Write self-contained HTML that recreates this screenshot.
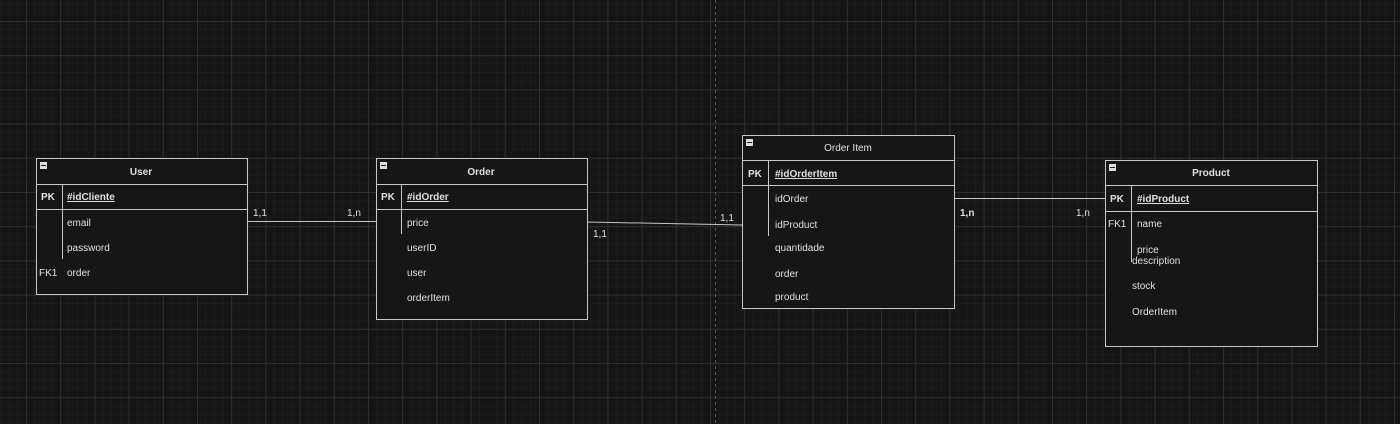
<!DOCTYPE html>
<html><head><meta charset="utf-8"><style>
html,body{margin:0;padding:0;background:#151515;}
svg{display:block}
text{font-family:"Liberation Sans",sans-serif;font-size:10px;fill:#e0e0e0}
.b{font-weight:bold}
</style></head><body>
<svg width="1400" height="424" xmlns="http://www.w3.org/2000/svg">
<defs>
<pattern id="minor" x="26" y="21" width="8.55" height="8.55" patternUnits="userSpaceOnUse"><path d="M0 0H8.55M0 0V8.55" stroke="#212121" stroke-width="1" fill="none"/></pattern>
<pattern id="major" x="26" y="21" width="34.2" height="34.2" patternUnits="userSpaceOnUse"><path d="M0 0.5H34.2M0.5 0V34.2" stroke="#2e2e2e" stroke-width="1" fill="none"/></pattern>
</defs>
<rect width="1400" height="424" fill="#151515"/>
<rect width="1400" height="424" fill="url(#minor)"/>
<rect width="1400" height="424" fill="url(#major)"/>
<line x1="715.5" y1="0" x2="715.5" y2="424" stroke="#555" stroke-dasharray="3,3"/>

<g stroke="#c8c8c8" stroke-width="1" fill="none">
<line x1="247" y1="221.5" x2="376" y2="221.5"/>
<line x1="587" y1="222" x2="742" y2="225"/>
<line x1="954" y1="198.5" x2="1105" y2="198.5"/>
</g>
<text x="253" y="216">1,1</text><text x="347" y="216">1,n</text>
<text x="593" y="237">1,1</text><text x="720" y="221">1,1</text>
<text x="960" y="216" class="b">1,n</text><text x="1076" y="216">1,n</text>

<!-- User -->
<g>
<rect x="36.5" y="158.5" width="211" height="136" fill="#161616" stroke="#c8c8c8"/>
<line x1="36" y1="184.5" x2="247" y2="184.5" stroke="#c8c8c8"/>
<line x1="36" y1="209.5" x2="247" y2="209.5" stroke="#c8c8c8"/>
<line x1="62.5" y1="184" x2="62.5" y2="259" stroke="#c8c8c8"/>
<rect x="40" y="162" width="7" height="7" fill="#ddd"/><rect x="41" y="165" width="5" height="1" fill="#222"/>
<text x="141" y="175" text-anchor="middle" class="b">User</text>
<text x="41" y="200" class="b">PK</text>
<text x="67" y="200" class="b" text-decoration="underline">#idCliente</text>
<text x="67" y="226">email</text><text x="67" y="251">password</text>
<text x="39" y="276">FK1</text><text x="67" y="276">order</text>
</g>
<!-- Order -->
<g>
<rect x="376.5" y="158.5" width="211" height="161" fill="#161616" stroke="#c8c8c8"/>
<line x1="376" y1="184.5" x2="587" y2="184.5" stroke="#c8c8c8"/>
<line x1="376" y1="209.5" x2="587" y2="209.5" stroke="#c8c8c8"/>
<line x1="401.5" y1="184" x2="401.5" y2="234" stroke="#c8c8c8"/>
<rect x="380" y="162" width="7" height="7" fill="#ddd"/><rect x="381" y="165" width="5" height="1" fill="#222"/>
<text x="481" y="175" text-anchor="middle" class="b">Order</text>
<text x="381" y="200" class="b">PK</text>
<text x="407" y="200" class="b" text-decoration="underline">#idOrder</text>
<text x="407" y="226">price</text><text x="407" y="251">userID</text>
<text x="407" y="276">user</text><text x="407" y="301">orderItem</text>
</g>
<!-- Order Item -->
<g>
<rect x="742.5" y="135.5" width="212" height="173" fill="#161616" stroke="#c8c8c8"/>
<line x1="742" y1="160.5" x2="954" y2="160.5" stroke="#c8c8c8"/>
<line x1="742" y1="185.5" x2="954" y2="185.5" stroke="#c8c8c8"/>
<line x1="768.5" y1="160" x2="768.5" y2="236" stroke="#c8c8c8"/>
<rect x="746" y="139" width="7" height="7" fill="#ddd"/><rect x="747" y="142" width="5" height="1" fill="#222"/>
<text x="848" y="151" text-anchor="middle">Order Item</text>
<text x="748" y="177" class="b">PK</text>
<text x="775" y="177" class="b" text-decoration="underline">#idOrderItem</text>
<text x="775" y="202">idOrder</text><text x="775" y="228">idProduct</text>
<text x="775" y="251">quantidade</text><text x="775" y="277">order</text>
<text x="775" y="300">product</text>
</g>
<!-- Product -->
<g>
<rect x="1105.5" y="160.5" width="212" height="186" fill="#161616" stroke="#c8c8c8"/>
<line x1="1105" y1="185.5" x2="1317" y2="185.5" stroke="#c8c8c8"/>
<line x1="1105" y1="211.5" x2="1317" y2="211.5" stroke="#c8c8c8"/>
<line x1="1131.5" y1="185" x2="1131.5" y2="262" stroke="#c8c8c8"/>
<rect x="1109" y="164" width="7" height="7" fill="#ddd"/><rect x="1110" y="167" width="5" height="1" fill="#222"/>
<text x="1211" y="176" text-anchor="middle" class="b">Product</text>
<text x="1110" y="202" class="b">PK</text>
<text x="1137" y="202" class="b" text-decoration="underline">#idProduct</text>
<text x="1108" y="227">FK1</text><text x="1137" y="227">name</text>
<text x="1137" y="253">price</text><text x="1132" y="264">description</text>
<text x="1132" y="289">stock</text><text x="1132" y="315">OrderItem</text>
</g>
</svg>
</body></html>
